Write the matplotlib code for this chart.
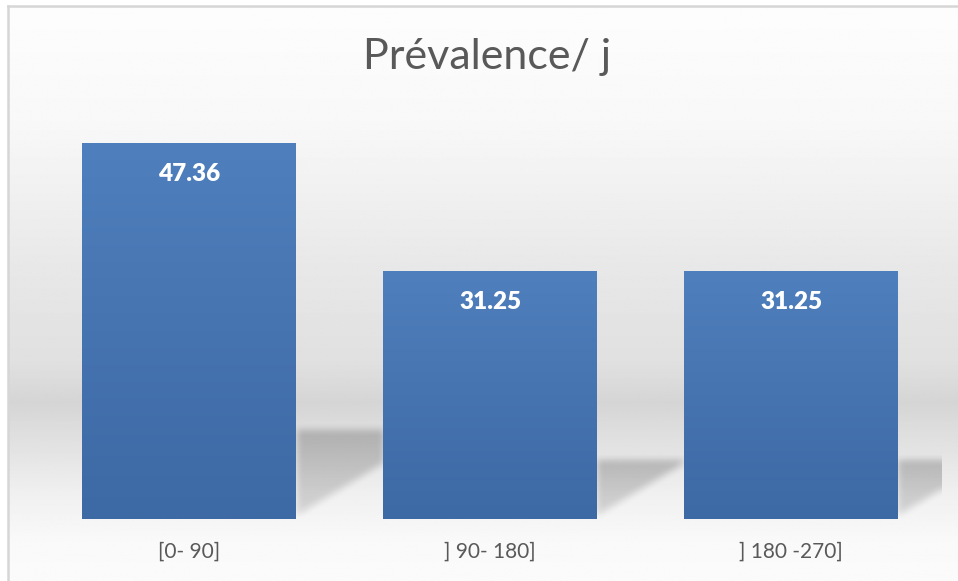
import numpy as np
import matplotlib
matplotlib.use('Agg')
import matplotlib.pyplot as plt
from matplotlib.colors import LinearSegmentedColormap
from matplotlib.lines import Line2D

plt.rcParams['font.family'] = ['Lato', 'DejaVu Sans']

# Chart data
categories = ['[0- 90]', '] 90- 180]', '] 180 -270]']
values = [47.36, 31.25, 31.25]
value_labels = ['47.36', '31.25', '31.25']
title = 'Prévalence/ j'

W, H, DPI = 958, 581, 100
fig = plt.figure(figsize=(W / DPI, H / DPI), dpi=DPI)
fig.patch.set_facecolor('white')

# Background panel with soft vertical gradient (Excel-like)
bg = fig.add_axes([8 / W, 0, 1 - 8 / W, (H - 7) / H], zorder=0)
bg.set_axis_off()
yy = np.linspace(0, 1, 400)  # 0 = top
stops_y = [0.0, 0.2, 0.45, 0.62, 0.69, 0.74, 0.85, 0.93, 1.0]
stops_v = [253, 248, 232, 224, 213, 222, 240, 249, 251]
grad = np.interp(yy, stops_y, stops_v) / 255.0
bg.imshow(np.repeat(grad[:, None], 2, axis=1), cmap='gray', vmin=0, vmax=1,
          aspect='auto', extent=[0, 1, 0, 1], interpolation='bilinear')
bg.set_xlim(0, 1)
bg.set_ylim(0, 1)
fig.add_artist(Line2D([8 / W, 1], [(H - 6) / H] * 2, color='#d6d6d6', lw=1.8, zorder=1))
fig.add_artist(Line2D([8 / W] * 2, [0, (H - 6) / H], color='#d6d6d6', lw=1.8, zorder=1))

# Plot area
left_px, right_px, base_px, top_px = 38.5, 941.5, 519, 122
ax = fig.add_axes([left_px / W, (H - base_px) / H, (right_px - left_px) / W,
                   (base_px - top_px) / H], zorder=2)
ax.patch.set_alpha(0)
x = np.arange(len(categories))
width = 0.71
ymax = 50
ax.set_xlim(-0.5, len(categories) - 0.5)
ax.set_ylim(0, ymax)

# Perspective shadows behind bars
nx, ny = int(right_px - left_px), int(base_px - top_px)
gx = np.linspace(-0.5, len(categories) - 0.5, nx)
gy = np.linspace(ymax, 0, ny)
GX, GY = np.meshgrid(gx, gy)
alpha = np.zeros_like(GX)
gap = 1 - width
for xi, v in zip(x, values):
    r = xi + width / 2
    top = 0.235 * v
    diag = 0.4 + (GX - r) / gap * 6.6
    m = (GX >= r) & (GX <= r + gap) & (GY <= top) & (GY >= diag)
    shade = 0.21 - 0.09 * np.clip((top - GY) / top, 0, 1)
    alpha = np.where(m, shade, alpha)

def box_blur(a, k):
    out = a.copy()
    for axis in (0, 1):
        pad = [(0, 0), (0, 0)]
        pad[axis] = (k, k)
        p = np.pad(out, pad, mode='edge')
        c = np.cumsum(p, axis=axis)
        c = np.insert(c, 0, 0, axis=axis)
        n = out.shape[axis]
        hi = np.take(c, np.arange(2 * k + 1, 2 * k + 1 + n), axis=axis)
        lo = np.take(c, np.arange(0, n), axis=axis)
        out = (hi - lo) / (2 * k + 1)
    return out

alpha = box_blur(box_blur(alpha, 3), 4)
rgba = np.zeros((ny, nx, 4))
rgba[..., 3] = alpha
ax.imshow(rgba, extent=[-0.5, len(categories) - 0.5, 0, ymax], aspect='auto',
          zorder=1, interpolation='bilinear')

# Bars with a vertical blue gradient
bars = ax.bar(x, values, width, color='#4a7ab7', edgecolor='none', zorder=2)
bar_cmap = LinearSegmentedColormap.from_list('bar', ['#3d69a4', '#4f7fbd'])
for b, lab in zip(bars, value_labels):
    g = np.linspace(0, 1, 256)[:, None]
    im = ax.imshow(g, cmap=bar_cmap, aspect='auto', origin='lower', zorder=3,
                   extent=[b.get_x(), b.get_x() + b.get_width(), 0, b.get_height()])
    im.set_clip_path(b)
    ax.annotate(lab, xy=(b.get_x() + b.get_width() / 2, b.get_height()),
                xytext=(0, -22.5), textcoords='offset points', ha='center', va='center',
                color='white', fontsize=17.5, fontweight='heavy', zorder=4)

ax.set_xlim(-0.5, len(categories) - 0.5)
ax.set_ylim(0, ymax)
ax.set_xticks(x)
ax.set_xticklabels(categories, fontsize=15, color='#595959')
ax.tick_params(axis='x', length=0, pad=16)
ax.set_yticks([])
for s in ax.spines.values():
    s.set_visible(False)

fig.text(487 / W, (H - 57) / H, title, ha='center', va='center', fontsize=31, color='#595959')

fig.savefig('out.png', dpi=DPI)
